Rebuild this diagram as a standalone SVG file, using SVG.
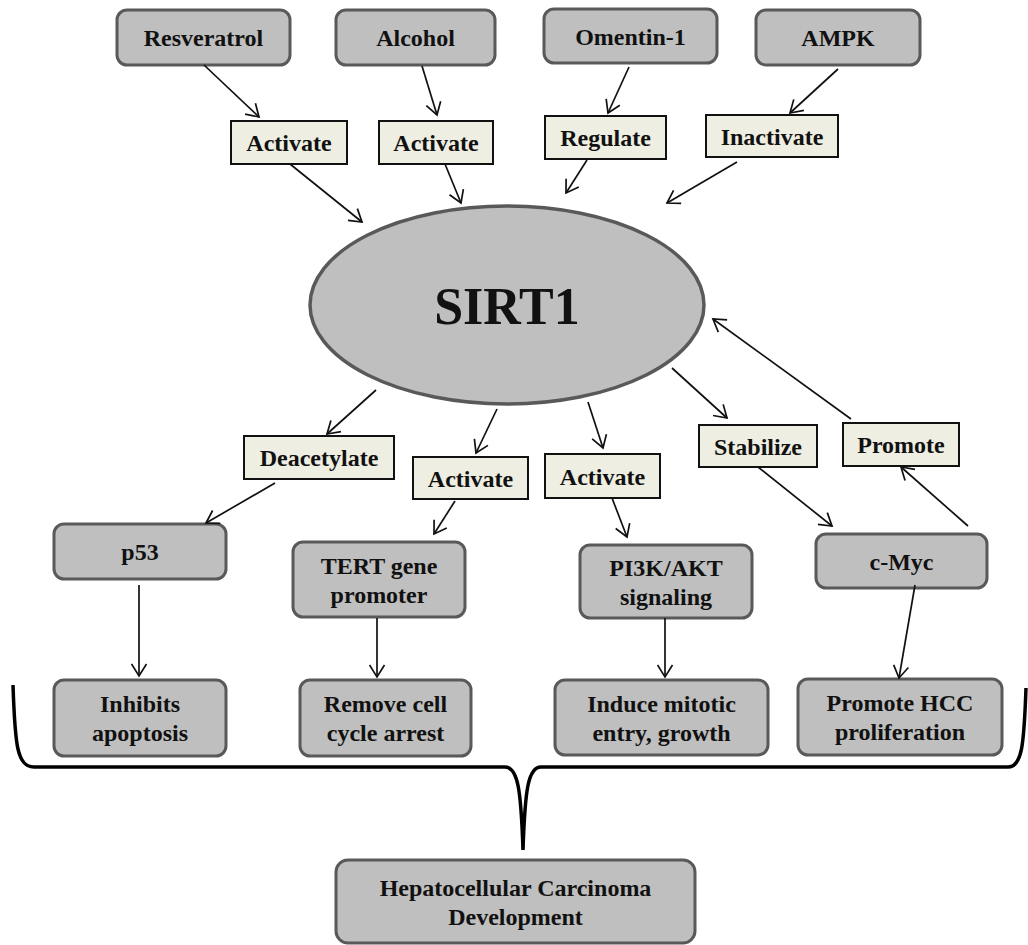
<svg xmlns="http://www.w3.org/2000/svg" width="1028" height="945" viewBox="0 0 1028 945">
<style>
.g{fill:#bfbfbf;stroke:#595959;stroke-width:3}
.b{fill:#eeeee2;stroke:#111;stroke-width:2}
.t{font-family:"Liberation Serif","Times New Roman",serif;font-weight:bold;font-size:24px;fill:#111;text-anchor:middle}
.c line{stroke:#111;stroke-width:1.7;marker-end:url(#ah)}
</style>
<defs>
<marker id="ah" markerUnits="userSpaceOnUse" markerWidth="15" markerHeight="17" viewBox="0 0 15 17" refX="13" refY="8.5" orient="auto">
<path d="M1,1 L13,8.5 L1,16" fill="none" stroke="#111" stroke-width="1.7"/>
</marker>
</defs>
<rect width="1028" height="945" fill="#fff"/>

<g id="n-resveratrol"><rect class="g" x="117" y="10" width="173" height="55" rx="10"/><text class="t" x="203.5" y="46">Resveratrol</text></g>
<g id="n-alcohol"><rect class="g" x="336" y="10" width="159" height="55" rx="10"/><text class="t" x="415.5" y="46">Alcohol</text></g>
<g id="n-omentin"><rect class="g" x="544" y="9" width="173" height="54" rx="10"/><text class="t" x="630.5" y="45">Omentin-1</text></g>
<g id="n-ampk"><rect class="g" x="756" y="10" width="164" height="55" rx="10"/><text class="t" x="838" y="46">AMPK</text></g>

<g id="l-act1"><rect class="b" x="231" y="121" width="116" height="43"/><text class="t" x="289" y="151">Activate</text></g>
<g id="l-act2"><rect class="b" x="379" y="121" width="114" height="43"/><text class="t" x="436" y="151">Activate</text></g>
<g id="l-regulate"><rect class="b" x="545" y="116" width="121" height="43"/><text class="t" x="605.5" y="146">Regulate</text></g>
<g id="l-inactivate"><rect class="b" x="706" y="115" width="132" height="42"/><text class="t" x="772" y="145">Inactivate</text></g>

<g id="n-sirt1"><ellipse cx="507" cy="305" rx="197" ry="99" fill="#bfbfbf" stroke="#595959" stroke-width="3.5"/><text x="507" y="324" font-family="Liberation Serif,serif" font-weight="bold" font-size="52" fill="#111" text-anchor="middle">SIRT1</text></g>

<g id="l-deacetylate"><rect class="b" x="244" y="436" width="150" height="43"/><text class="t" x="319" y="466">Deacetylate</text></g>
<g id="l-act3"><rect class="b" x="413" y="457" width="115" height="42"/><text class="t" x="470.5" y="487">Activate</text></g>
<g id="l-act4"><rect class="b" x="545" y="454" width="115" height="44"/><text class="t" x="602.5" y="485">Activate</text></g>
<g id="l-stabilize"><rect class="b" x="699" y="425" width="118" height="42"/><text class="t" x="758" y="455">Stabilize</text></g>
<g id="l-promote"><rect class="b" x="843" y="423" width="116" height="43"/><text class="t" x="901" y="453">Promote</text></g>

<g id="n-p53"><rect class="g" x="54" y="524" width="172" height="55" rx="10"/><text class="t" x="140" y="560">p53</text></g>
<g id="n-tert"><rect class="g" x="293" y="542" width="172" height="75" rx="10"/><text class="t" x="379" y="574">TERT gene</text><text class="t" x="379" y="603">promoter</text></g>
<g id="n-pi3k"><rect class="g" x="580" y="545" width="172" height="73" rx="10"/><text class="t" x="666" y="576">PI3K/AKT</text><text class="t" x="666" y="605">signaling</text></g>
<g id="n-cmyc"><rect class="g" x="816" y="534" width="171" height="54" rx="10"/><text class="t" x="901.5" y="570">c-Myc</text></g>

<g id="n-inhibits"><rect class="g" x="54" y="680" width="172" height="76" rx="10"/><text class="t" x="140" y="712">Inhibits</text><text class="t" x="140" y="741">apoptosis</text></g>
<g id="n-remove"><rect class="g" x="300" y="680" width="171" height="76" rx="10"/><text class="t" x="385.5" y="712">Remove cell</text><text class="t" x="385.5" y="741">cycle arrest</text></g>
<g id="n-induce"><rect class="g" x="555" y="680" width="213" height="75" rx="10"/><text class="t" x="661.5" y="712">Induce mitotic</text><text class="t" x="661.5" y="741">entry, growth</text></g>
<g id="n-hccprolif"><rect class="g" x="798" y="679" width="204" height="76" rx="10"/><text class="t" x="900" y="711">Promote HCC</text><text class="t" x="900" y="740">proliferation</text></g>

<g id="n-hcc"><rect class="g" x="336" y="860" width="359" height="83" rx="12"/><text class="t" x="515.5" y="896">Hepatocellular Carcinoma</text><text class="t" x="515.5" y="925">Development</text></g>

<g id="connectors" class="c">
<line x1="204" y1="65" x2="259" y2="117"/>
<line x1="290" y1="164" x2="362" y2="222"/>
<line x1="422" y1="66" x2="437" y2="115"/>
<line x1="445" y1="164" x2="461" y2="203"/>
<line x1="629" y1="67" x2="608" y2="113"/>
<line x1="587" y1="160" x2="566" y2="193"/>
<line x1="838" y1="69" x2="790" y2="113"/>
<line x1="737" y1="162" x2="667" y2="203"/>
<line x1="376" y1="390" x2="327" y2="434"/>
<line x1="275" y1="483" x2="206" y2="523"/>
<line x1="497" y1="409" x2="476" y2="453"/>
<line x1="455" y1="501" x2="434" y2="534"/>
<line x1="588" y1="402" x2="603" y2="448"/>
<line x1="612" y1="498" x2="627" y2="537"/>
<line x1="672" y1="368" x2="727" y2="418"/>
<line x1="851" y1="419" x2="713" y2="319"/>
<line x1="758" y1="467" x2="832" y2="526"/>
<line x1="968" y1="526" x2="901" y2="467"/>
<line x1="915" y1="585" x2="899" y2="678"/>
<line x1="139" y1="585" x2="139" y2="676"/>
<line x1="377" y1="618" x2="377" y2="677"/>
<line x1="665" y1="618" x2="665" y2="677"/>
<path d="M13,685 C15,745 17,767 34,767 L505,767 C518,767 521,790 523,850 C525,790 528,767 541,767 L1008,767 C1022,767 1024,745 1026,688" fill="none" stroke="#000" stroke-width="3.5"/>
</g>
</svg>
